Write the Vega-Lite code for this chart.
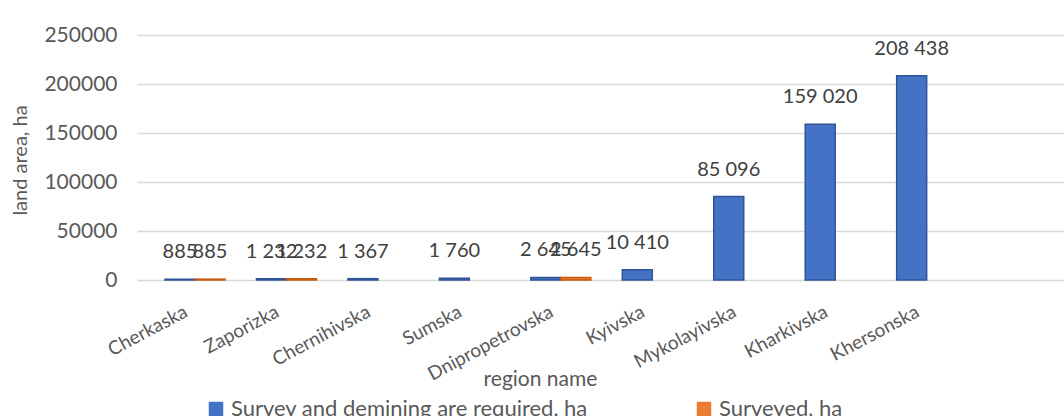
{
  "$schema": "https://vega.github.io/schema/vega-lite/v6.json",
  "width": 927,
  "height": 245,
  "autosize": {"type": "none"},
  "padding": {"left": 137, "top": 35, "right": 0, "bottom": 136},
  "background": "white",
  "config": {
    "view": {"stroke": null},
    "font": "Lato",
    "locale": {"number": {"decimal": ".", "thousands": " ", "grouping": [3], "currency": ["", ""]}}
  },
  "data": {
    "values": [
      {"region": "Cherkaska", "series": "Survey and demining are required, ha", "area": 885},
      {"region": "Cherkaska", "series": "Surveyed, ha", "area": 885},
      {"region": "Zaporizka", "series": "Survey and demining are required, ha", "area": 1232},
      {"region": "Zaporizka", "series": "Surveyed, ha", "area": 1232},
      {"region": "Chernihivska", "series": "Survey and demining are required, ha", "area": 1367},
      {"region": "Sumska", "series": "Survey and demining are required, ha", "area": 1760},
      {"region": "Dnipropetrovska", "series": "Survey and demining are required, ha", "area": 2645},
      {"region": "Dnipropetrovska", "series": "Surveyed, ha", "area": 2645},
      {"region": "Kyivska", "series": "Survey and demining are required, ha", "area": 10410},
      {"region": "Mykolayivska", "series": "Survey and demining are required, ha", "area": 85096},
      {"region": "Kharkivska", "series": "Survey and demining are required, ha", "area": 159020},
      {"region": "Khersonska", "series": "Survey and demining are required, ha", "area": 208438}
    ]
  },
  "encoding": {
    "x": {
      "field": "region",
      "type": "nominal",
      "sort": ["Cherkaska", "Zaporizka", "Chernihivska", "Sumska", "Dnipropetrovska", "Kyivska", "Mykolayivska", "Kharkivska", "Khersonska"],
      "scale": {"paddingInner": 0.344, "paddingOuter": 0.74, "align": 0.207},
      "axis": {
        "title": "region name",
        "titleFontSize": 21,
        "titleFontWeight": "normal",
        "titleColor": "#595959",
        "titleX": 403,
        "titleY": 105,
        "titleBaseline": "alphabetic",
        "labelAngle": -28,
        "labelAlign": "right",
        "labelBaseline": "middle",
        "labelPadding": 30,
        "labelOffset": -9,
        "labelFontSize": 19,
        "labelColor": "#595959",
        "ticks": false,
        "domain": false,
        "grid": false
      }
    },
    "xOffset": {
      "field": "series",
      "type": "nominal",
      "scale": {"domain": ["Survey and demining are required, ha", "Surveyed, ha"], "paddingInner": 0}
    },
    "y": {
      "field": "area",
      "type": "quantitative",
      "scale": {"domain": [0, 250000], "nice": false},
      "axis": {
        "values": [0, 50000, 100000, 150000, 200000, 250000],
        "format": "d",
        "title": "land area, ha",
        "titleFontSize": 20,
        "titleFontWeight": "normal",
        "titleColor": "#595959",
        "titleAngle": 270,
        "titleBaseline": "middle",
        "titleAlign": "center",
        "titleX": -117,
        "titleY": 125,
        "labelFontSize": 21,
        "labelColor": "#595959",
        "labelPadding": 20,
        "ticks": false,
        "domain": false,
        "grid": true,
        "gridColor": "#d9d9d9",
        "gridWidth": 1.5
      }
    }
  },
  "layer": [
    {
      "mark": {"type": "bar", "strokeWidth": 1.5},
      "encoding": {
        "color": {
          "field": "series",
          "type": "nominal",
          "scale": {"domain": ["Survey and demining are required, ha", "Surveyed, ha"], "range": ["#4472C4", "#ED7D31"]},
          "legend": {
            "orient": "none",
            "legendX": 68,
            "legendY": 363,
            "direction": "horizontal",
            "title": null,
            "symbolType": "square",
            "symbolSize": 210,
            "symbolStrokeWidth": 0,
            "labelFontSize": 22,
            "labelColor": "#595959",
            "labelLimit": 600,
            "labelOffset": 4,
            "columnPadding": 105
          }
        },
        "stroke": {
          "field": "series",
          "type": "nominal",
          "scale": {"domain": ["Survey and demining are required, ha", "Surveyed, ha"], "range": ["#2F5597", "#C55A11"]},
          "legend": null
        }
      }
    },
    {
      "mark": {"type": "text", "baseline": "bottom", "dy": -17, "fontSize": 20, "color": "#404040"},
      "encoding": {
        "text": {"field": "area", "type": "quantitative", "format": ",d"}
      }
    }
  ]
}
